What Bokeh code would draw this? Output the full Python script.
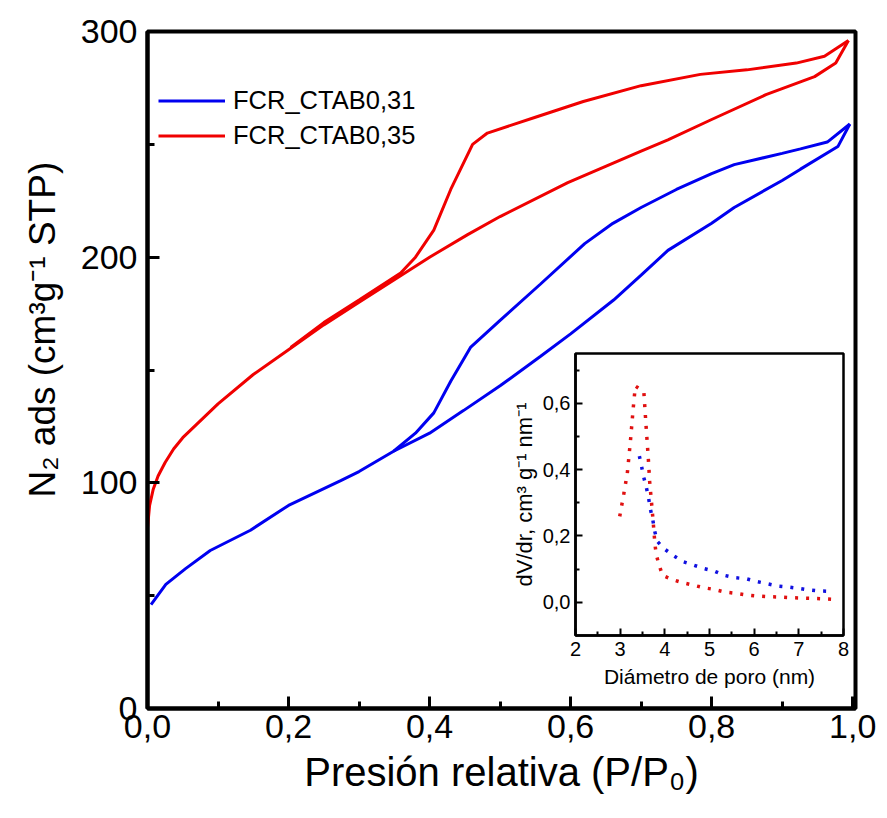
from bokeh.plotting import figure
from bokeh.models import (Range1d, FixedTicker, CustomJSTickFormatter, Legend,
                          LegendItem, Title)
from bokeh.layouts import column
from bokeh.embed import file_html
from bokeh.resources import INLINE

FONT = "Liberation Sans"

# ---- main isotherm data (P/P0, cm3/g STP) ----
blue_ads_x = [0.005, 0.026, 0.054, 0.089, 0.146, 0.2, 0.274, 0.3, 0.349, 0.4, 0.448, 0.5,
              0.557, 0.6, 0.661, 0.7, 0.738, 0.8, 0.832, 0.9, 0.926, 0.979, 0.996]
blue_ads_y = [46, 55, 62, 70, 79, 90, 101, 105, 114, 122, 132, 143,
              156, 166, 181, 192, 203, 215, 222, 234, 239, 249, 259]
blue_des_x = [0.996, 0.964, 0.926, 0.9, 0.832, 0.8, 0.75, 0.7, 0.66, 0.62, 0.557,
              0.5, 0.458, 0.43, 0.406, 0.38, 0.349]
blue_des_y = [259, 251, 248, 246, 241, 237, 230, 222, 215, 206, 188,
              172, 160, 145, 131, 122, 114]
red_ads_x = [0.0, 0.003, 0.008, 0.015, 0.025, 0.037, 0.05, 0.07, 0.1, 0.15, 0.2, 0.25,
             0.3, 0.355, 0.4, 0.454, 0.5, 0.596, 0.7, 0.738, 0.8, 0.877, 0.946, 0.976, 0.994]
red_ads_y = [80, 90, 97, 103, 109, 115, 120, 126, 135, 148, 159, 170,
             180, 191, 200, 210, 218, 233, 247, 252, 261, 272, 280, 286, 296]
red_des_x = [0.994, 0.96, 0.92, 0.85, 0.784, 0.7, 0.618, 0.55, 0.482, 0.461, 0.43, 0.406,
             0.38, 0.359, 0.3, 0.25, 0.203]
red_des_y = [296, 289, 286, 283, 281, 276, 269, 262, 255, 250, 230, 212,
             200, 193, 181, 171, 160]

# ---- inset pore size distribution (nm, cm3 g-1 nm-1) ----
red_psd_x = [2.99, 3.08, 3.16, 3.23, 3.29, 3.34, 3.53, 3.58, 3.63, 3.66, 3.70, 3.74, 3.78,
             3.81, 3.87, 3.95, 4.16, 4.40, 4.63, 4.87, 5.10, 5.34, 5.60, 5.84, 6.07, 6.31,
             6.55, 6.79, 7.03, 7.27, 7.51, 7.78]
red_psd_y = [0.259, 0.326, 0.389, 0.486, 0.582, 0.652, 0.635, 0.531, 0.434, 0.364, 0.304,
             0.241, 0.173, 0.143, 0.113, 0.081, 0.069, 0.059, 0.052, 0.044, 0.039, 0.031,
             0.027, 0.022, 0.019, 0.017, 0.016, 0.014, 0.013, 0.012, 0.011, 0.009]
blue_psd_x = [3.43, 3.48, 3.53, 3.59, 3.64, 3.68, 3.73, 3.77, 3.83, 3.98, 4.19, 4.42, 4.65,
              4.87, 5.11, 5.34, 5.58, 5.82, 6.05, 6.29, 6.53, 6.77, 7.01, 7.25, 7.50, 7.74]
blue_psd_y = [0.441, 0.409, 0.376, 0.344, 0.311, 0.279, 0.249, 0.216, 0.184, 0.162, 0.141,
              0.122, 0.112, 0.102, 0.094, 0.081, 0.074, 0.071, 0.063, 0.056, 0.049, 0.046,
              0.042, 0.037, 0.034, 0.033]

labels = ["FCR_CTAB0,31", "FCR_CTAB0,35"]
x_ticks = [0.0, 0.2, 0.4, 0.6, 0.8, 1.0]
x_minor = [0.1, 0.3, 0.5, 0.7, 0.9]
y_ticks = [0, 100, 200, 300]
y_minor = [50, 150, 250]
ix_ticks = [2, 3, 4, 5, 6, 7, 8]
ix_minor = [2.5, 3.5, 4.5, 5.5, 6.5, 7.5]
iy_ticks = [0.0, 0.2, 0.4, 0.6]
iy_minor = [0.1, 0.3, 0.5, 0.7]

BLUE = "#0000F0"
RED = "#F00000"

comma = CustomJSTickFormatter(code="return tick.toFixed(1).replace('.', ',')")

BL, BR = 147, 24   # shared left/right borders (column aligns frames)

p = figure(frame_width=708, frame_height=677, output_backend="svg", toolbar_location=None,
           x_range=Range1d(0, 1.004), y_range=Range1d(0, 300),
           min_border_left=BL, min_border_right=BR, min_border_top=31, min_border_bottom=102,
           background_fill_color="white", border_fill_color="white")
p.grid.visible = False
p.outline_line_color = "black"
p.outline_line_width = 4
p.outline_line_alpha = 1

rb = p.line(blue_ads_x, blue_ads_y, line_color=BLUE, line_width=3)
p.line(blue_des_x, blue_des_y, line_color=BLUE, line_width=3)
rr = p.line(red_ads_x, red_ads_y, line_color=RED, line_width=3)
p.line(red_des_x, red_des_y, line_color=RED, line_width=3)

for ax in (p.xaxis[0], p.yaxis[0]):
    ax.axis_line_width = 4
    ax.axis_line_color = "black"
    ax.major_tick_in = 12
    ax.major_tick_out = 0
    ax.minor_tick_in = 7
    ax.minor_tick_out = 0
    ax.major_tick_line_width = 3
    ax.minor_tick_line_width = 3
    ax.major_label_text_font = FONT
    ax.major_label_text_font_size = "34px"
    ax.major_label_text_color = "black"
    ax.axis_label_text_font = FONT
    ax.axis_label_text_font_style = "normal"
    ax.axis_label_text_font_size = "40px"
    ax.axis_label_text_color = "black"

p.xaxis[0].ticker = FixedTicker(ticks=x_ticks, minor_ticks=x_minor)
p.xaxis[0].formatter = comma
p.xaxis[0].major_label_standoff = 6
p.xaxis[0].axis_label = "Presión relativa (P/P₀)"
p.xaxis[0].axis_label_standoff = 9
p.yaxis[0].ticker = FixedTicker(ticks=y_ticks, minor_ticks=y_minor)
p.yaxis[0].major_label_standoff = 10

ytitle = Title(text="N₂ ads (cm³g⁻¹ STP)", align="left", vertical_align="top",
               offset=211, standoff=26,
               text_font=FONT, text_font_size="37px", text_font_style="normal",
               text_color="black")
p.add_layout(ytitle, "left")

legend = Legend(items=[LegendItem(label=labels[0], renderers=[rb]),
                       LegendItem(label=labels[1], renderers=[rr])],
                location=(11, 555), padding=0, spacing=0, margin=0,
                glyph_width=67, glyph_height=35, label_height=35, label_standoff=8,
                label_text_font=FONT, label_text_font_size="25.5px",
                label_text_color="black",
                border_line_alpha=0, background_fill_alpha=0)
p.add_layout(legend)

# ---- inset ----
ins = figure(frame_width=268, frame_height=282, output_backend="svg", toolbar_location=None,
             x_range=Range1d(2, 8), y_range=Range1d(-0.1, 0.75),
             min_border_left=BL, min_border_right=BR, min_border_top=5, min_border_bottom=75,
             background_fill_color="white", border_fill_alpha=0,
             margin=(-462, 0, 100, 575 - BL))
ins.grid.visible = False
ins.outline_line_color = "black"
ins.outline_line_width = 2.5
ins.outline_line_alpha = 1

ins.line(red_psd_x, red_psd_y, line_color="#E01010", line_width=3.5, line_dash="3 8")
ins.line(blue_psd_x, blue_psd_y, line_color="#1010E0", line_width=3.5, line_dash="3 8")

for ax in (ins.xaxis[0], ins.yaxis[0]):
    ax.axis_line_width = 2.5
    ax.axis_line_color = "black"
    ax.major_tick_in = 7
    ax.major_tick_out = 0
    ax.minor_tick_in = 4
    ax.minor_tick_out = 0
    ax.major_tick_line_width = 2
    ax.minor_tick_line_width = 2
    ax.major_label_text_font = FONT
    ax.major_label_text_font_size = "20px"
    ax.major_label_text_color = "black"
    ax.axis_label_text_font = FONT
    ax.axis_label_text_font_style = "normal"
    ax.axis_label_text_font_size = "21px"
    ax.axis_label_text_color = "black"

ins.xaxis[0].ticker = FixedTicker(ticks=ix_ticks, minor_ticks=ix_minor)
ins.xaxis[0].major_label_standoff = 6
ins.xaxis[0].axis_label = "Diámetro de poro (nm)"
ins.xaxis[0].axis_label_standoff = 6
ins.yaxis[0].ticker = FixedTicker(ticks=iy_ticks, minor_ticks=iy_minor)
ins.yaxis[0].formatter = comma
ins.yaxis[0].major_label_standoff = 5
ins.yaxis[0].axis_label = "dV/dr, cm³ g⁻¹ nm⁻¹"
ins.yaxis[0].axis_label_text_font_size = "22px"
ins.yaxis[0].axis_label_standoff = 3

layout = column(p, ins, spacing=0)

open("out.html", "w").write(file_html(layout, INLINE))
